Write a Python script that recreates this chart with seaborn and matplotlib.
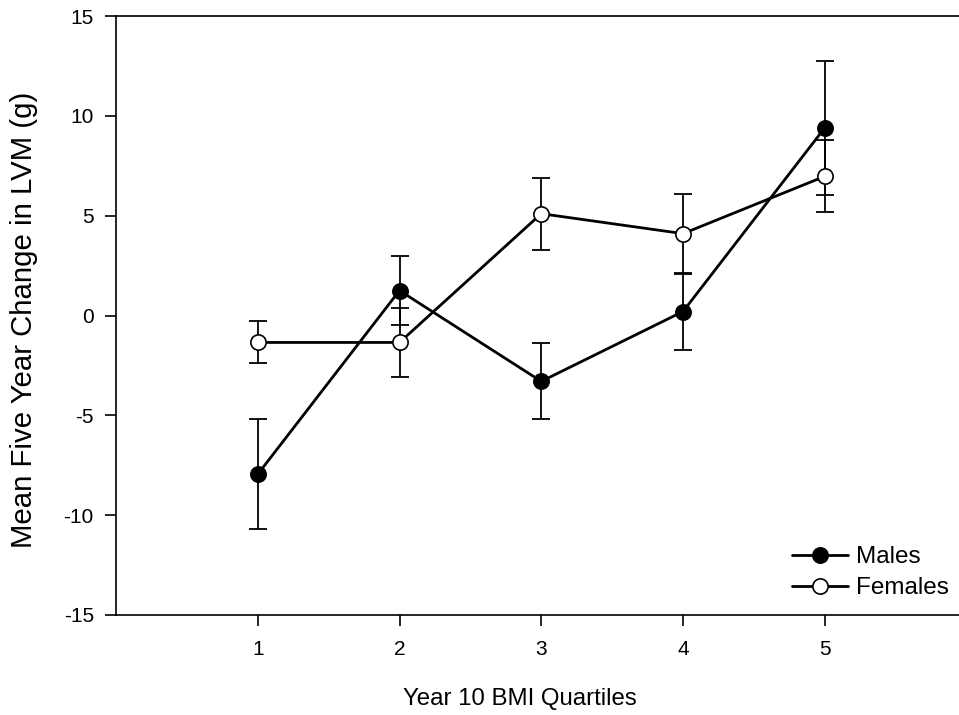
import numpy as np
import pandas as pd
import matplotlib
matplotlib.use("Agg")
import matplotlib.pyplot as plt
import seaborn as sns

quartiles = [1, 2, 3, 4, 5]
males_mean = [-7.95, 1.25, -3.3, 0.2, 9.4]
males_err = [2.75, 1.75, 1.9, 1.92, 3.35]
females_mean = [-1.35, -1.35, 5.1, 4.1, 6.97]
females_err = [1.05, 1.72, 1.8, 2.0, 1.8]

df = pd.DataFrame({
    "Quartile": quartiles * 2,
    "Change": males_mean + females_mean,
    "Err": males_err + females_err,
    "Group": ["Males"] * 5 + ["Females"] * 5,
})

sns.set_style("ticks")
plt.rcParams["font.family"] = ["Liberation Sans", "DejaVu Sans"]
plt.rcParams["axes.unicode_minus"] = False
plt.rcParams["text.color"] = "black"
plt.rcParams["axes.labelcolor"] = "black"

fig = plt.figure(figsize=(9.59, 7.15), dpi=100)
ax = fig.add_axes([116 / 959, 100 / 715, 1 - 116 / 959, 599 / 715])

faces = {"Males": "black", "Females": "white"}
for grp in ["Males", "Females"]:
    sub = df[df["Group"] == grp]
    ax.errorbar(sub["Quartile"], sub["Change"], yerr=sub["Err"], fmt="none",
                ecolor="black", elinewidth=1.3, capsize=6.5, capthick=1.3, zorder=2)
    sns.lineplot(data=sub, x="Quartile", y="Change", ax=ax, color="black",
                 linewidth=2, marker="o", markersize=11, markerfacecolor=faces[grp],
                 markeredgecolor="black", markeredgewidth=1.2, label=grp, zorder=3)

ax.set_xlim(0, 843 / 141.75)
ax.set_ylim(-15, 15)
ax.set_xticks(quartiles)
ax.set_yticks(np.arange(-15, 16, 5))
ax.tick_params(axis="both", direction="out", length=8, width=1.2, colors="black",
               labelsize=15, pad=8)
ax.tick_params(axis="x", pad=10)
for s in ["left", "bottom", "top"]:
    ax.spines[s].set_linewidth(1.2)
    ax.spines[s].set_color("black")
ax.spines["right"].set_visible(False)

ax.set_xlabel("Year 10 BMI Quartiles", fontsize=17.3)
ax.set_ylabel("Mean Five Year Change in LVM (g)", fontsize=21.2)
ax.xaxis.set_label_coords(0.479, -0.1225)
ax.yaxis.set_label_coords(-0.093, 0.4925)

ax.legend(loc="lower right", bbox_to_anchor=(1.0, 0.01), frameon=False,
          fontsize=17.5, handlelength=2.3, handletextpad=0.35, labelspacing=0.37,
          borderaxespad=0.0)

fig.savefig("out.png", dpi=100)
